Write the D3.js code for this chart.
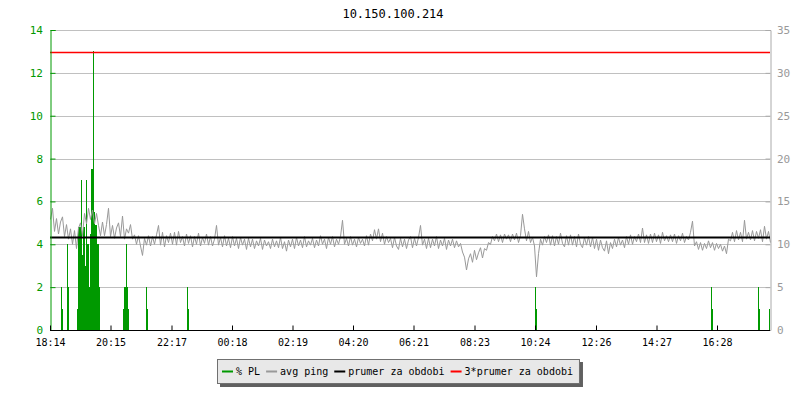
<!DOCTYPE html>
<html>
<head>
<meta charset="utf-8">
<script src="https://cdn.jsdelivr.net/npm/d3@7"></script>
<style>
body { margin: 0; background: #fff; }
text { font-family: "DejaVu Sans Mono", monospace; }
</style>
</head>
<body>
<svg id="chart" width="800" height="400"></svg>
<script>
// host + period
var title = "10.150.100.214";
var startTime = "18:14";
var xTickLabels = ["18:14","20:15","22:17","00:18","02:19","04:20","06:21","08:23","10:24","12:26","14:27","16:28"];

// % packet loss, minutes after start / value
var plMinutes = [22,24,34,36,54,56,58,60,62,64,66,68,70,72,74,76,78,80,82,84,86,88,90,92,94,96,98,
                 146,148,150,152,154,156,192,194,274,276,970,972,1322,1324,1416,1418,1438];
var plValues  = [2,1,4,2,1,4.8,4.8,4.8,7,3.5,4.8,4.8,3,7,4,4,2,4.5,7.5,7.5,13,5.5,4.9,4.9,4,4,2,
                 1,2,2,4,2,1,2,1,2,1,2,1,2,1,2,1,1];

// avg ping (ms), one sample every 4 minutes
var pingStep = 4;
var pingValues = [
  12.9,14.2,11.5,13.0,11.2,12.6,13.2,10.9,12.3,10.6,
  11.8,10.0,11.6,9.5,11.9,12.5,11.0,13.6,12.4,14.2,
  12.9,14.0,12.4,13.6,12.2,11.0,12.6,11.0,12.3,14.2,
  10.9,12.2,10.7,11.9,12.5,10.9,13.3,10.6,11.8,11.3,
  12.3,10.6,11.1,10.0,11.0,9.8,8.7,10.7,9.9,11.0,
  9.8,10.9,10.0,11.1,12.2,9.9,11.4,9.7,11.0,10.2,
  11.3,10.0,11.4,9.9,11.5,10.2,10.9,9.8,11.2,10.1,
  11.0,9.7,10.9,10.0,11.3,9.8,10.8,10.1,11.2,9.9,
  10.9,9.8,10.6,12.2,9.9,10.8,9.7,11.0,9.8,10.7,
  9.6,10.9,9.8,10.7,9.5,10.8,9.9,10.6,9.4,10.7,
  9.7,10.6,9.5,10.4,9.8,10.7,9.4,10.5,9.8,10.3,
  9.5,10.6,9.7,10.4,9.6,10.8,9.5,10.3,9.2,10.5,
  9.7,10.6,9.5,10.8,9.8,10.5,9.6,10.9,9.7,10.4,
  9.9,10.7,9.6,10.5,9.8,11.0,10.0,10.6,9.5,10.8,
  10.0,10.9,9.7,10.6,10.0,10.9,12.8,10.0,10.7,9.8,
  10.9,9.9,10.6,9.7,10.8,10.1,10.6,9.8,11.0,9.9,
  11.2,10.4,11.7,10.6,11.8,10.3,11.3,10.0,10.9,10.2,
  10.7,9.6,10.8,9.8,9.4,10.7,9.7,10.6,9.5,10.5,
  10.9,9.6,10.7,9.8,10.8,12.2,9.9,10.6,9.5,10.7,
  9.6,10.6,9.8,10.9,9.5,10.5,9.8,10.7,9.4,10.5,
  9.8,10.6,9.6,10.4,9.7,10.1,9.1,8.5,7.0,8.3,
  8.9,7.9,9.3,8.2,9.0,9.6,8.4,9.5,9.3,10.2,
  10.0,10.9,10.4,11.2,10.3,11.1,10.2,11.2,10.6,11.1,
  10.3,11.2,10.5,11.3,10.2,11.0,13.5,11.8,10.4,11.5,
  10.2,10.8,9.8,6.2,8.9,10.6,9.9,10.9,10.2,11.1,
  9.9,11.0,9.8,10.9,10.0,11.3,10.1,9.7,11.0,9.9,
  11.1,9.9,10.9,9.7,11.2,10.0,9.6,10.8,9.9,10.9,
  9.7,10.8,9.5,10.6,9.3,10.5,9.6,9.2,10.4,8.9,
  10.2,9.5,10.6,9.7,10.8,9.9,10.5,9.6,10.9,10.0,
  11.1,10.0,10.9,10.3,11.2,10.2,11.9,10.2,11.1,10.1,
  11.2,10.2,11.3,10.3,11.1,10.1,11.4,10.4,11.0,10.3,
  11.1,10.3,11.2,10.1,11.0,10.4,11.3,10.2,10.9,10.5,
  11.4,12.7,9.8,10.3,9.4,10.2,9.3,10.1,9.5,10.4,
  9.6,10.2,9.3,10.1,9.5,10.0,9.2,9.8,8.9,10.6,
  10.4,11.4,10.3,11.6,10.5,11.4,10.3,12.8,10.6,11.4,
  10.5,11.6,10.4,11.5,10.7,11.7,10.3,12.1,10.6,11.5,10.2
];

var pingMean = 10.8;   // prumer za obdobi
var legendItems = [
  {label: "% PL", color: "#009900"},
  {label: "avg ping", color: "#999999"},
  {label: "prumer za obdobi", color: "#000000"},
  {label: "3*prumer za obdobi", color: "#ff0000"}
];

var svg = d3.select("#chart");
var plotL = 50, plotR = 770, plotT = 30, plotB = 330;

var x = d3.scaleLinear().domain([0, 1440]).range([plotL, plotR]);
var yPL = d3.scaleLinear().domain([0, 14]).range([plotB, plotT]);
var yPing = d3.scaleLinear().domain([0, 35]).range([plotB, plotT]);

function minutesOf(lbl) {
  var p = lbl.split(":"), s = startTime.split(":");
  return ((+p[0] * 60 + +p[1]) - (+s[0] * 60 + +s[1]) + 1440) % 1440;
}

// title
svg.append("text").attr("x", 393).attr("y", 18).attr("text-anchor", "middle")
  .style("font-size", "12px").attr("fill", "#000").text(title);

// grid
svg.append("g").selectAll("line").data(d3.range(2, 15, 2)).enter().append("line")
  .attr("x1", plotL).attr("x2", plotR)
  .attr("y1", function(d){ return Math.round(yPL(d)) + 0.5; })
  .attr("y2", function(d){ return Math.round(yPL(d)) + 0.5; })
  .attr("stroke", "#c0c0c0").attr("stroke-width", 1);

// packet loss bars
svg.append("g").selectAll("rect").data(plMinutes).enter().append("rect")
  .attr("x", function(d){ return x(d); })
  .attr("width", function(d){ return x(d + 2) - x(d); })
  .attr("y", function(d, i){ return yPL(plValues[i]); })
  .attr("height", function(d, i){ return plotB - yPL(plValues[i]); })
  .attr("fill", "#009900").attr("shape-rendering", "crispEdges");

// avg ping
var pingLine = d3.line()
  .x(function(d, i){ return x(i * pingStep) + 0.5; })
  .y(function(d){ return yPing(d); });
svg.append("path").datum(pingValues).attr("d", pingLine)
  .attr("fill", "none").attr("stroke", "#999999").attr("stroke-width", 1);

// mean lines
svg.append("line").attr("x1", plotL).attr("x2", plotR)
  .attr("y1", yPing(pingMean)).attr("y2", yPing(pingMean))
  .attr("stroke", "#000").attr("stroke-width", 2);
svg.append("line").attr("x1", plotL).attr("x2", plotR)
  .attr("y1", Math.round(yPing(3 * pingMean)) + 0.5).attr("y2", Math.round(yPing(3 * pingMean)) + 0.5)
  .attr("stroke", "#ff0000").attr("stroke-width", 1.3);

// left axis (inward ticks + labels)
var gl = svg.append("g").attr("transform", "translate(" + (plotL + 0.5) + ",0)").attr("color", "#009900");
gl.call(d3.axisRight(yPL).tickValues(d3.range(1, 15, 2)).tickSize(3).tickFormat(""));
gl.call(d3.axisRight(yPL).tickValues(d3.range(0, 15, 2)).tickSize(5).tickFormat(""));
var glab = svg.append("g").attr("transform", "translate(" + plotL + ",0)")
  .call(d3.axisLeft(yPL).tickValues(d3.range(0, 15, 2)).tickSize(0).tickPadding(7));
glab.select(".domain").remove();
glab.selectAll("text").attr("fill", "#009900").style("font-size", "11px").style("font-family", "DejaVu Sans Mono");

// right axis
var gr = svg.append("g").attr("transform", "translate(" + (plotR + 0.5) + ",0)").attr("color", "#aaaaaa");
gr.call(d3.axisLeft(yPing).tickValues(d3.range(0, 36, 1)).tickSize(3).tickFormat(""));
gr.call(d3.axisLeft(yPing).tickValues(d3.range(0, 36, 5)).tickSize(5).tickFormat(""));
var grlab = svg.append("g").attr("transform", "translate(" + plotR + ",0)")
  .call(d3.axisRight(yPing).tickValues(d3.range(0, 36, 5)).tickSize(0).tickPadding(7));
grlab.select(".domain").remove();
grlab.selectAll("text").attr("fill", "#999999").style("font-size", "11px").style("font-family", "DejaVu Sans Mono");

// x axis
var gx = svg.append("g").attr("transform", "translate(0," + (plotB + 0.5) + ")")
  .call(d3.axisBottom(x).tickValues(xTickLabels.map(minutesOf))
    .tickSize(-5).tickPadding(8)
    .tickFormat(function(d, i){ return xTickLabels[i]; }));
gx.selectAll("text").attr("fill", "#000").style("font-size", "10px").style("font-family", "DejaVu Sans Mono");
gx.select(".domain").attr("d", "M" + plotL + ",0H" + plotR);

// legend
var lg = svg.append("g");
var lx = 217, ly = 359, lh = 24;
var shadow = lg.append("rect").attr("fill", "#606060");
var box = lg.append("rect").attr("fill", "#e8e8e8").attr("stroke", "#707070");
var cx = lx + 5;
legendItems.forEach(function(it) {
  lg.append("line").attr("x1", cx).attr("x2", cx + 11).attr("y1", ly + 12.5).attr("y2", ly + 12.5)
    .attr("stroke", it.color).attr("stroke-width", 2);
  var t = lg.append("text").attr("x", cx + 14).attr("y", ly + 16)
    .style("font-size", "10px").attr("fill", "#000").text(it.label);
  cx += 14 + t.node().getComputedTextLength() + 6;
});
var lw = cx - lx;
box.attr("x", lx + 0.5).attr("y", ly + 0.5).attr("width", lw).attr("height", lh);
shadow.attr("x", lx + 3).attr("y", ly + 3).attr("width", lw + 1).attr("height", lh + 1);
</script>
</body>
</html>
